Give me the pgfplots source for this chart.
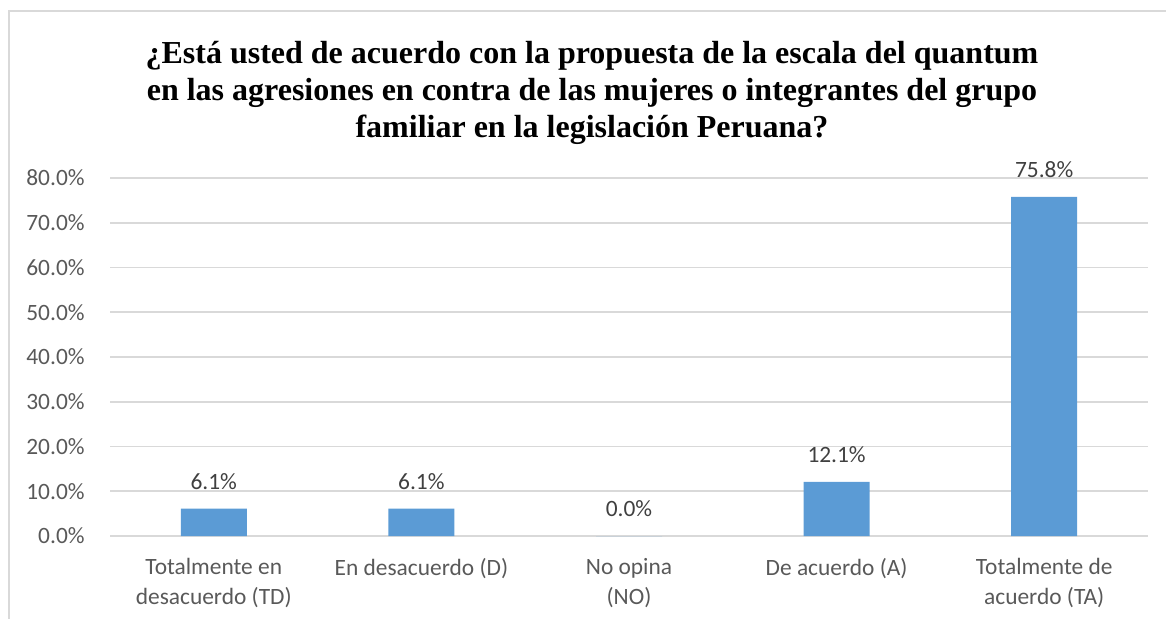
\documentclass[border=0pt]{standalone}
\usepackage{fontspec}
\setmainfont{Liberation Serif}
\newfontfamily\calibri{Carlito}
\usepackage{pgfplots}
\pgfplotsset{compat=1.18}
\definecolor{barblue}{HTML}{5B9BD5}
\definecolor{gridgray}{HTML}{D9D9D9}
\definecolor{ticktext}{HTML}{595959}
\definecolor{labeltext}{HTML}{404040}
\begin{document}
\begin{tikzpicture}
\useasboundingbox (0,0) rectangle (583pt,309pt);
\draw[gridgray, line width=0.7pt] (4.5pt,-20pt) -- (4.5pt,303.5pt) -- (600pt,303.5pt);
\begin{scope}[every node/.style={anchor=base, inner sep=0pt, font=\bfseries\fontsize{16}{18}\selectfont}]
\node at (296pt,277.5pt) {¿Está usted de acuerdo con la propuesta de la escala del quantum};
\node at (296pt,259pt) {en las agresiones en contra de las mujeres o integrantes del grupo};
\node at (296pt,240.5pt) {familiar en la legislación Peruana?};
\end{scope}
\begin{axis}[
  at={(55pt,41pt)}, anchor=south west,
  scale only axis, width=519pt, height=179pt,
  xmin=-0.5, xmax=4.5, ymin=0, ymax=80,
  ytick={0,10,...,80},
  xtick={0,1,2,3,4},
  xticklabels={{Totalmente en\\desacuerdo (TD)},{En desacuerdo (D)},{No opina\\(NO)},{De acuerdo (A)},{Totalmente de\\acuerdo (TA)}},
  ymajorgrids,
  grid style={gridgray, line width=0.8pt},
  axis line style={draw=none},
  major tick length=0pt,
  /pgf/number format/assume math mode=true,
  yticklabel={\pgfmathprintnumber[fixed,fixed zerofill,precision=1]{\tick}\%},
  yticklabel style={anchor=east, inner sep=0pt, xshift=-12.5pt, font=\calibri\fontsize{11.7}{14}\selectfont, text=ticktext},
  xticklabel style={anchor=north, align=center, inner sep=0pt, yshift=-11pt, font=\calibri\fontsize{11.7}{15}\selectfont, text=ticktext},
  clip=false,
]
\addplot[ybar, bar width=33pt, fill=barblue, draw=none,
  nodes near coords={\pgfmathprintnumber[fixed,fixed zerofill,precision=1]{\pgfplotspointmeta}\%},
  nodes near coords style={font=\calibri\fontsize{11.7}{14}\selectfont, text=labeltext, anchor=south, yshift=6pt},
] coordinates {(0,6.1) (1,6.1) (2,0) (3,12.1) (4,75.8)};
\end{axis}
\end{tikzpicture}
\end{document}
